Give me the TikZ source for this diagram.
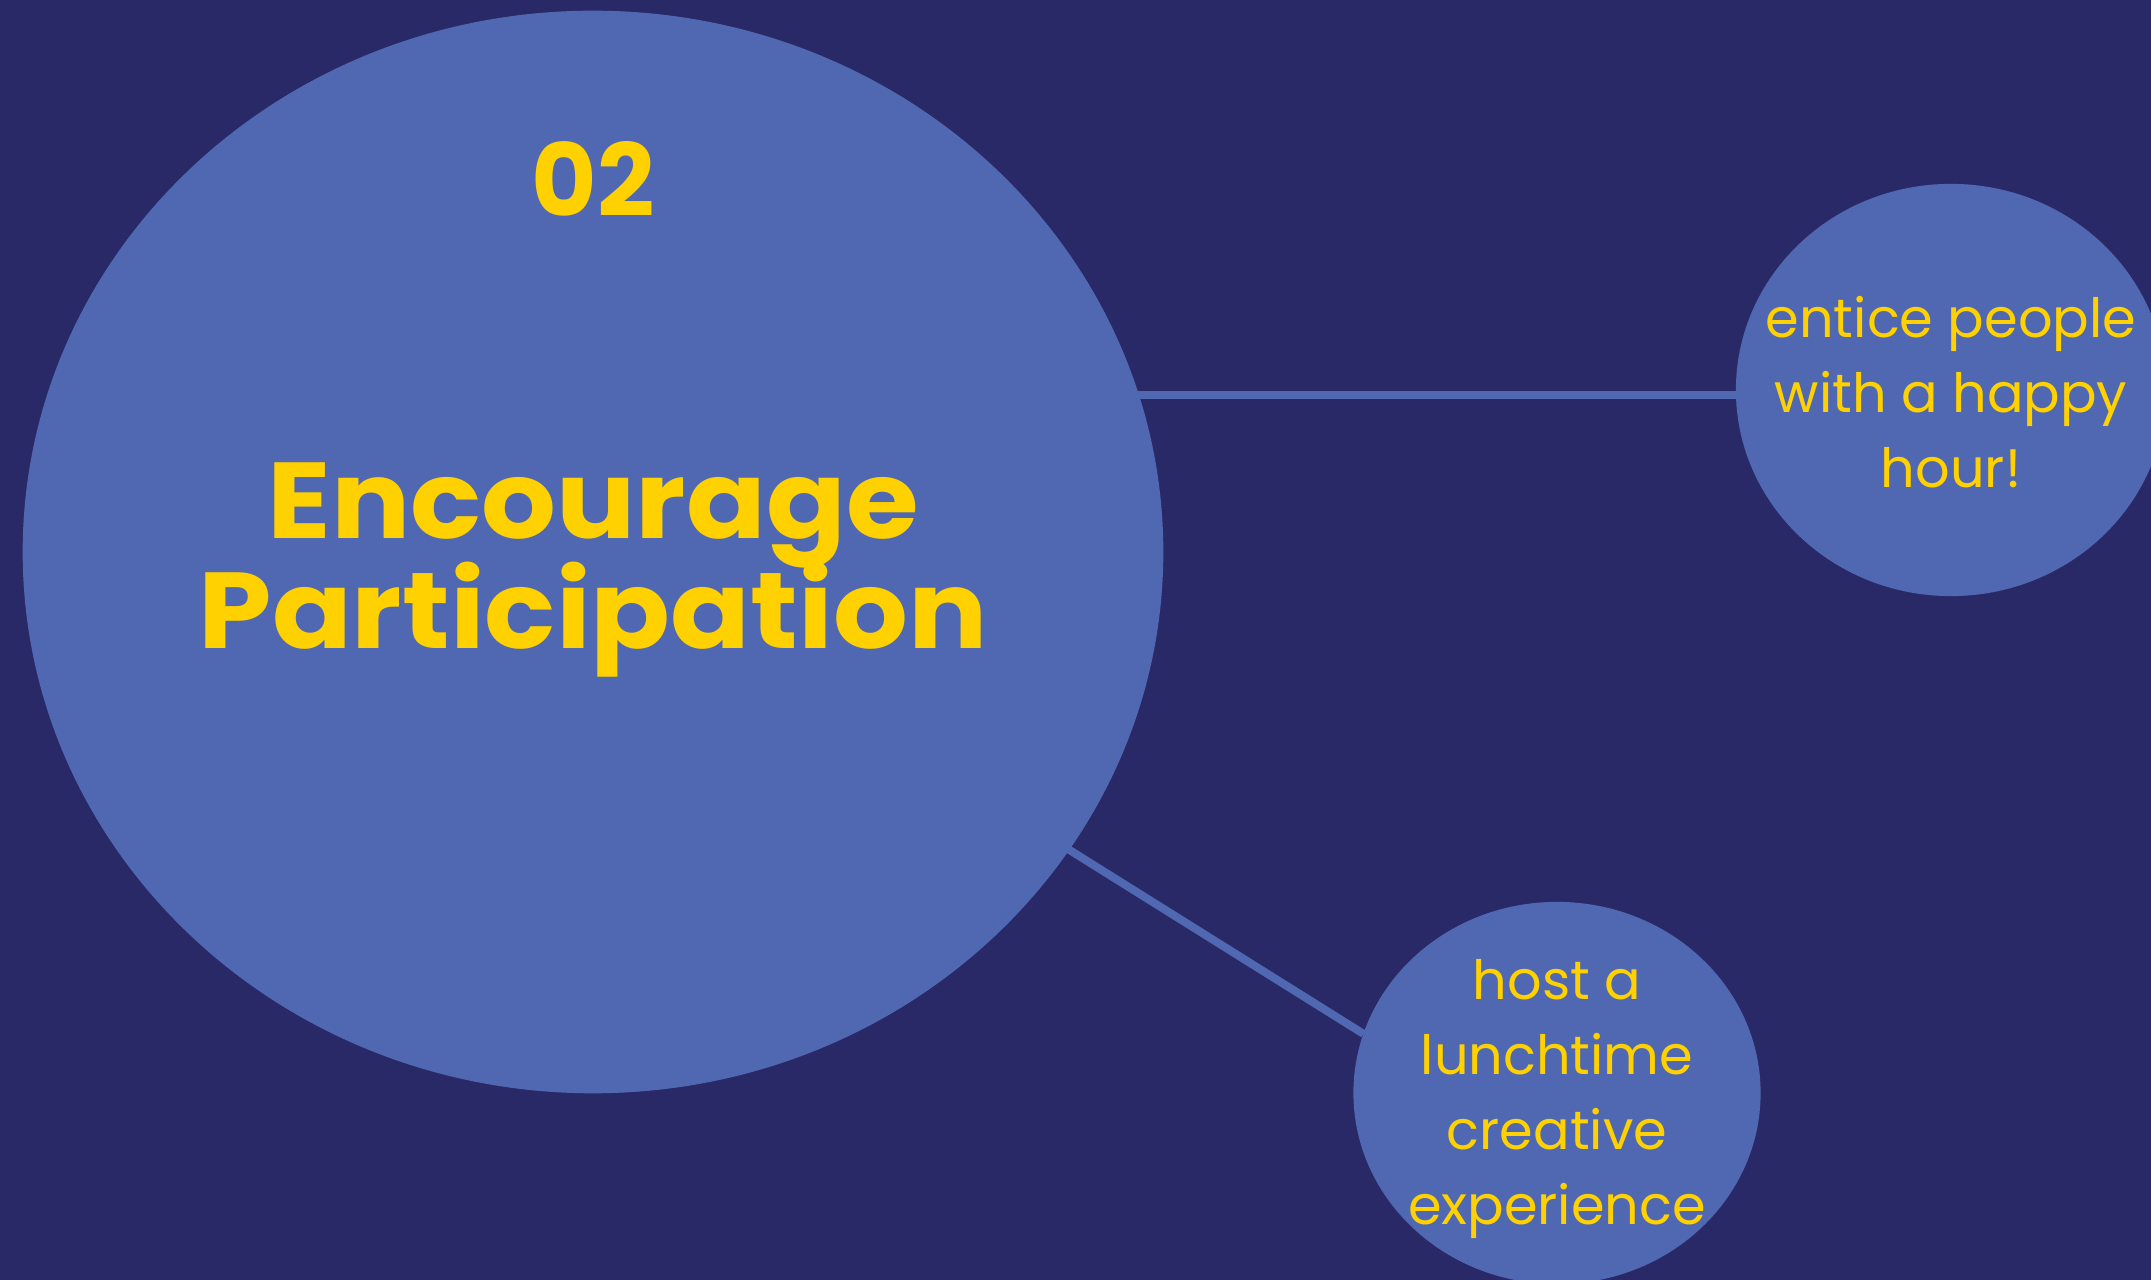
\documentclass[tikz,border=0pt]{standalone}
\usepackage{fontspec}
\setmainfont{Poppins}
\newfontfamily\widefont[FakeStretch=1.09]{Poppins}
\usetikzlibrary{shapes.geometric}
\setlength{\lineskiplimit}{-1cm}

\definecolor{night}{HTML}{2A2968}
\definecolor{bubble}{HTML}{5068B1}
\definecolor{gold}{HTML}{FFD100}

\tikzset{
  bubble/.style={ellipse, fill=bubble, inner sep=0pt, outer sep=0pt},
  link/.style={draw=bubble, line width=0.08cm},
  note/.style={text=gold, align=center, inner sep=0pt, font=\fontsize{15.4}{21.3}\selectfont},
}

\begin{document}
\begin{tikzpicture}[x=0.01cm,y=-0.01cm]
\useasboundingbox (0,0) rectangle (2151,1280);
\clip (0,0) rectangle (2151,1280);
\fill [night] (0,0) rectangle (2151,1280);

\node [bubble, minimum width=11.40cm, minimum height=10.82cm] (big) at (593,552) {};
\node [bubble, minimum width=4.30cm, minimum height=4.12cm] (happy) at (1951,390) {};
\node [bubble, minimum width=4.07cm, minimum height=3.82cm] (lunch) at (1557,1093) {};

\draw [link] ([yshift=-0.05cm]happy.west) -- ([yshift=-0.05cm]happy.west -| big.center);
\draw [link] (big.center) -- (lunch.163);

\node [text=gold, inner sep=0pt, anchor=base, font=\fontsize{28.6}{28.6}\selectfont\bfseries] (num) at (593,217) {02};
\node [text=gold, inner sep=0pt, align=center, font={\fontsize{30.7}{31.3}\widefont\bfseries}] (title) at (593,570) {Encourage\\Participation};
\node [note] (happytext) at ([yshift=-0.02cm]happy.center) {entice people\\with a happy\\hour!};
\node [note] (lunchtext) at ([yshift=-0.06cm]lunch.center) {host a\\lunchtime\\creative\\experience};
\end{tikzpicture}
\end{document}
